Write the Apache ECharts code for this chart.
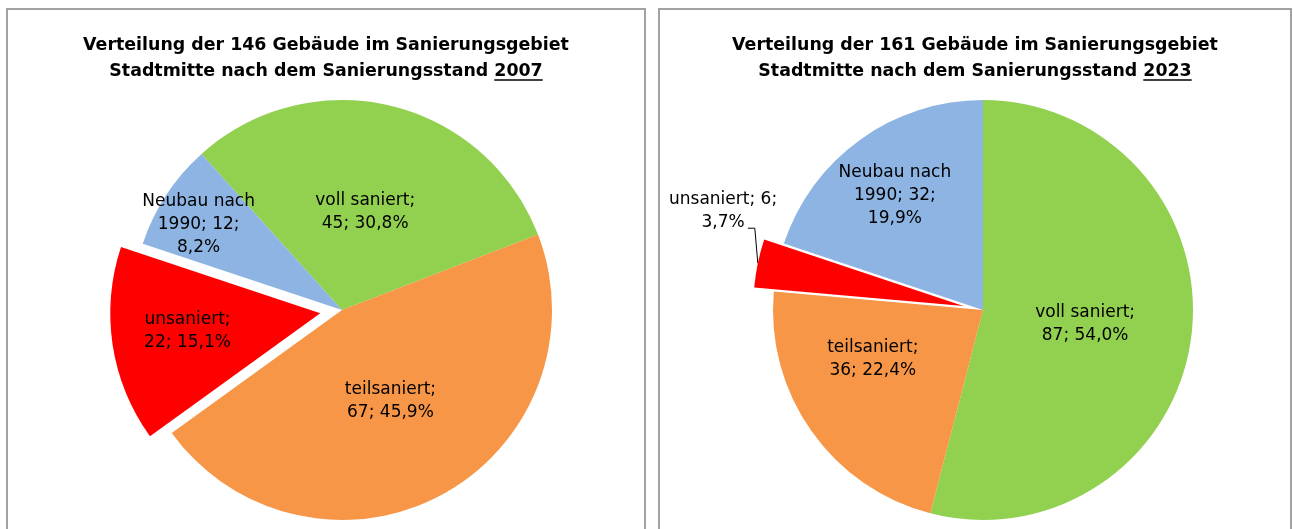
<!DOCTYPE html>
<html>
<head>
<meta charset="utf-8">
<script src="https://cdn.jsdelivr.net/npm/echarts@6/dist/echarts.min.js"></script>
<style>
  html, body { margin: 0; padding: 0; background: #ffffff; }
  #chart { width: 1293px; height: 529px; }
</style>
</head>
<body>
<div id="chart"></div>
<script>
// Building stock of the Stadtmitte redevelopment area by refurbishment state
const years = ['2007', '2023'];
const categories2007 = ['voll saniert', 'teilsaniert', 'unsaniert', 'Neubau nach 1990'];
const values2007 = [45, 67, 22, 12];
const categories2023 = ['voll saniert', 'teilsaniert', 'unsaniert', 'Neubau nach 1990'];
const values2023 = [87, 36, 6, 32];
const sliceColors = ['#92D050', '#F79646', '#FF0000', '#8DB4E2'];
const explodedIndex = 2; // "unsaniert" is pulled out of both pies

// where each label wraps: 'value' = break before the count, 'pct' = break before the share
const wrap2007 = ['value', 'value', 'value', 'pct'];
const wrap2023 = ['value', 'value', 'pct', 'pct'];

// small nudges of the labels (px, relative to the default label spot)
const labelNudge2007 = [[-2, 7], [-3, -4], [-26, 1], [-53, -26]];
const labelNudge2023 = [[-5, 0], [-22, -13], [-10, -50], [-25, -27]];

const FONT = '"DejaVu Sans", Verdana, sans-serif';
const TITLE_FONT = 'bold 17.4px ' + FONT;

const chart = echarts.init(document.getElementById('chart'), null, { renderer: 'canvas' });

function sum(arr) { return arr.reduce((a, b) => a + b, 0); }
function pctDE(v, total) { return (v / total * 100).toFixed(1).replace('.', ',') + '%'; }

function makeData(cats, vals) {
  return cats.map((c, i) => ({
    name: c,
    value: vals[i],
    selected: i === explodedIndex,
    itemStyle: { color: sliceColors[i] }
  }));
}

function labelFormatter(total, wrap) {
  return p => {
    const name = p.name.replace('nach ', 'nach\n');
    const w = wrap[p.dataIndex];
    return name + ';' + (w === 'value' ? '\n' : ' ') + p.value + ';' +
      (w === 'pct' ? '\n' : ' ') + pctDE(p.value, total);
  };
}

const measureCtx = document.createElement('canvas').getContext('2d');
function textWidth(str, font) { measureCtx.font = font; return measureCtx.measureText(str).width; }

// title block (two lines, year underlined) centred over a panel
function titleGraphics(cx, total, year) {
  const line1 = 'Verteilung der ' + total + ' Gebäude im Sanierungsgebiet';
  const line2 = 'Stadtmitte nach dem Sanierungsstand ' + year;
  const y1 = 45.5, y2 = 71;
  const w2 = textWidth(line2, TITLE_FONT);
  const wy = textWidth(year, TITLE_FONT);
  const right = cx + w2 / 2;
  return [
    {
      type: 'text', silent: true,
      style: { x: cx, y: y1, text: line1, font: TITLE_FONT, fill: '#000', align: 'center', verticalAlign: 'middle' }
    },
    {
      type: 'text', silent: true,
      style: { x: cx, y: y2, text: line2, font: TITLE_FONT, fill: '#000', align: 'center', verticalAlign: 'middle' }
    },
    {
      type: 'line', silent: true,
      shape: { x1: right - wy, y1: y2 + 9, x2: right, y2: y2 + 9 },
      style: { stroke: '#000', lineWidth: 1.5 }
    }
  ];
}

const total2007 = sum(values2007);
const total2023 = sum(values2023);

const baseLabel = {
  show: true,
  position: 'inside',
  color: '#000',
  fontFamily: FONT,
  fontSize: 17,
  lineHeight: 23,
  align: 'center'
};

const option = {
  animation: false,
  backgroundColor: '#ffffff',
  graphic: [
    { type: 'rect', silent: true, shape: { x: 7, y: 9, width: 638, height: 540 },
      style: { fill: 'none', stroke: '#a2a2a2', lineWidth: 2 } },
    { type: 'rect', silent: true, shape: { x: 659, y: 9, width: 632, height: 540 },
      style: { fill: 'none', stroke: '#a2a2a2', lineWidth: 2 } },
    ...titleGraphics(326, total2007, years[0]),
    ...titleGraphics(975, total2023, years[1])
  ],
  series: [
    {
      name: years[0],
      type: 'pie',
      center: [342, 310],
      radius: 210,
      startAngle: 132,
      clockwise: true,
      avoidLabelOverlap: false,
      selectedMode: 'single',
      selectedOffset: 22,
      itemStyle: { borderWidth: 0 },
      emphasis: { disabled: true },
      label: Object.assign({}, baseLabel, { formatter: labelFormatter(total2007, wrap2007) }),
      labelLine: { show: false },
      labelLayout: p => ({ dx: labelNudge2007[p.dataIndex][0], dy: labelNudge2007[p.dataIndex][1] }),
      data: makeData(categories2007, values2007)
    },
    {
      name: years[1],
      type: 'pie',
      center: [983, 310],
      radius: 210,
      startAngle: 90,
      clockwise: true,
      avoidLabelOverlap: false,
      selectedMode: 'single',
      selectedOffset: 20,
      itemStyle: { borderWidth: 0 },
      emphasis: { disabled: true },
      label: Object.assign({}, baseLabel, { formatter: labelFormatter(total2023, wrap2023) }),
      labelLine: { show: false },
      labelLayout: p => {
        const n = labelNudge2023[p.dataIndex];
        if (p.dataIndex === explodedIndex && p.labelLinePoints) {
          // leader line: up from the slice edge, then a short stub to the left
          const e = p.labelLinePoints[0];
          const bend = [e[0] - 3, e[1] - 35];
          const end = [bend[0] - 7, bend[1]];
          return { dx: n[0], dy: n[1], align: 'center', labelLinePoints: [e, bend, end] };
        }
        return { dx: n[0], dy: n[1] };
      },
      data: makeData(categories2023, values2023).map((d, i) => i === explodedIndex ? Object.assign(d, {
        label: { position: 'outside' },
        labelLine: { show: true, length: 12, length2: 8, lineStyle: { color: '#000', width: 1 } }
      }) : d)
    }
  ]
};

chart.setOption(option);
</script>
</body>
</html>
